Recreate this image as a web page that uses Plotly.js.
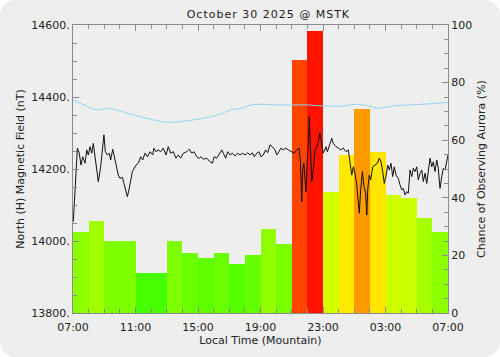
<!DOCTYPE html>
<html><head><meta charset="utf-8">
<script src="https://cdn.plot.ly/plotly-3.0.1.min.js"></script>
<style>
html,body{margin:0;padding:0;background:#fff;}
#wrap{width:500px;height:357px;border-radius:16px;overflow:hidden;background:#eeeeee;}
#chart{width:500px;height:357px;}
#chart .gtitle{letter-spacing:1px;}
</style></head><body><div id="wrap"><div id="chart"></div></div>
<script>
const chartTitle = 'October 30 2025 @ MSTK';

// Hourly aurora chance (%), one bar per local hour starting 07:00
const barHours = [7.5,8.5,9.5,10.5,11.5,12.5,13.5,14.5,15.5,16.5,17.5,18.5,19.5,20.5,21.5,22.5,23.5,24.5,25.5,26.5,27.5,28.5,29.5,30.5];
const auroraChance = [28,32,25,25,14,14,25,21,19,21,17,20,29,24,88,98,42,55,71,56,41,40,33,28];

// Magnetometer H component (nT), local hours (24+ = next day)
const magHours = [7.02,7.13,7.28,7.40,7.51,7.62,7.77,7.88,7.98,8.09,8.20,8.30,8.41,8.52,8.62,8.77,8.90,8.98,9.07,9.20,9.32,9.41,9.54,9.64,9.75,9.90,10.01,10.16,10.26,10.39,10.48,10.58,10.69,10.80,10.92,11.03,11.18,11.33,11.46,11.61,11.76,11.93,12.10,12.18,12.31,12.46,12.61,12.78,12.95,13.10,13.25,13.42,13.59,13.74,13.89,14.06,14.28,14.44,14.60,14.74,14.92,15.08,15.19,15.34,15.56,15.77,15.92,16.04,16.20,16.34,16.52,16.62,16.77,16.90,17.05,17.20,17.37,17.54,17.69,17.84,18.01,18.18,18.33,18.48,18.60,18.76,18.90,19.03,19.18,19.33,19.46,19.61,19.76,19.93,20.04,20.18,20.31,20.46,20.61,20.78,21.00,21.16,21.32,21.46,21.55,21.64,21.70,21.78,21.85,21.91,22.00,22.06,22.12,22.21,22.28,22.38,22.49,22.60,22.70,22.81,22.92,23.02,23.06,23.19,23.28,23.45,23.56,23.66,23.83,23.98,24.13,24.30,24.47,24.62,24.73,24.84,24.94,25.05,25.16,25.26,25.32,25.41,25.52,25.62,25.73,25.80,25.86,25.96,26.05,26.18,26.33,26.48,26.60,26.71,26.82,26.92,27.03,27.14,27.24,27.35,27.46,27.56,27.67,27.82,27.93,28.04,28.14,28.25,28.36,28.46,28.57,28.68,28.78,28.89,29.00,29.10,29.21,29.32,29.42,29.53,29.64,29.74,29.85,29.96,30.06,30.17,30.28,30.38,30.49,30.60,30.70,30.81,30.92,31.00];
const magH = [14054,14142,14258,14244,14211,14234,14216,14253,14239,14262,14244,14271,14239,14206,14165,14206,14267,14295,14248,14239,14244,14225,14255,14234,14206,14183,14174,14177,14160,14133,14123,14142,14170,14193,14202,14211,14216,14234,14225,14244,14234,14248,14239,14258,14248,14253,14248,14258,14239,14262,14244,14248,14230,14239,14230,14244,14248,14255,14244,14248,14234,14230,14234,14227,14230,14220,14216,14234,14230,14239,14253,14244,14230,14248,14239,14244,14236,14244,14239,14244,14239,14245,14239,14245,14234,14244,14248,14234,14239,14253,14245,14267,14262,14253,14239,14248,14258,14253,14258,14253,14248,14244,14253,14258,14225,14109,14197,14216,14170,14137,14234,14262,14345,14253,14165,14197,14253,14258,14276,14299,14267,14244,14248,14262,14248,14271,14285,14271,14262,14258,14253,14258,14248,14253,14220,14183,14206,14188,14156,14105,14077,14142,14193,14151,14133,14072,14142,14183,14170,14206,14211,14216,14230,14220,14193,14160,14179,14211,14197,14216,14179,14206,14183,14174,14156,14142,14146,14128,14137,14133,14197,14179,14202,14193,14206,14170,14188,14197,14165,14188,14160,14193,14230,14206,14220,14193,14225,14202,14146,14179,14202,14197,14220,14239];

// Quiet-day baseline (nT)
const baseHours = [7.0,7.7,8.5,9.1,9.6,10.5,11.5,12.8,13.5,14.3,15.0,15.8,16.5,17.1,17.8,18.4,19.2,20.0,21.0,22.0,23.0,24.3,25.1,25.8,26.5,27.5,28.4,29.4,31.0];
const baseH = [14392,14378,14364,14368,14366,14355,14343,14331,14330,14334,14338,14345,14354,14364,14369,14378,14380,14378,14378,14378,14375,14375,14380,14376,14369,14375,14378,14380,14385];

const xTickVals = [7,11,15,19,23,27,31];
const xTickText = ['07:00','11:00','15:00','19:00','23:00','03:00','07:00'];
const magTickVals = [13800,14000,14200,14400,14600];
const magTickText = ['13800.','14000.','14200.','14400.','14600.'];
const pctTickVals = [0,20,40,60,80,100];

function chanceColor(p){ return 'hsl(' + (120 - 1.18*p).toFixed(1) + ',100%,50%)'; }

const FONT = {family:'DejaVu Sans, sans-serif', size:11, color:'#222'};
const AX = '#8c8c8c';

const traces = [
  {type:'bar', x:barHours, y:auroraChance, width:1, yaxis:'y',
   marker:{color:auroraChance.map(chanceColor), line:{width:0}}, hoverinfo:'skip'},
  {type:'scatter', mode:'lines', x:baseHours, y:baseH, yaxis:'y2',
   line:{color:'#8fd4f2', width:1, shape:'spline', smoothing:0.6}},
  {type:'scatter', mode:'lines', x:magHours, y:magH, yaxis:'y2',
   line:{color:'#111', width:1}}
];

const layout = {
  width:500, height:357,
  margin:{l:73, r:52, t:25, b:44},
  paper_bgcolor:'#eeeeee', plot_bgcolor:'#eeeeee',
  showlegend:false, bargap:0,
  font:FONT,
  title:{text:chartTitle, font:FONT, x:0.521, xanchor:'center', xref:'paper', yref:'container', y:0.96, yanchor:'middle'},
  xaxis:{range:[7,31], tickmode:'array', tickvals:xTickVals, ticktext:xTickText,
    ticks:'inside', ticklen:6, tickcolor:AX, showline:true, linecolor:AX, linewidth:1, mirror:'ticks',
    minor:{tickmode:'linear', tick0:7, dtick:1, ticks:'inside', ticklen:4, tickcolor:AX},
    showgrid:false, zeroline:false, tickfont:FONT, ticklabelstandoff:4,
    title:{text:'Local Time (Mountain)', font:FONT, standoff:2}},
  yaxis:{range:[0,100], side:'right', tickmode:'array', tickvals:pctTickVals,
    ticks:'inside', ticklen:6, tickcolor:AX, showline:true, linecolor:AX, linewidth:1,
    minor:{tickmode:'linear', tick0:0, dtick:5, ticks:'inside', ticklen:4, tickcolor:AX},
    showgrid:false, zeroline:false, tickfont:FONT,
    title:{text:'Chance of Observing Aurora (%)', font:FONT, standoff:6}},
  yaxis2:{range:[13800,14600], side:'left', overlaying:'y', tickmode:'array', tickvals:magTickVals, ticktext:magTickText,
    ticks:'inside', ticklen:6, tickcolor:AX, showline:true, linecolor:AX, linewidth:1,
    minor:{tickmode:'linear', tick0:13800, dtick:50, ticks:'inside', ticklen:4, tickcolor:AX},
    showgrid:false, zeroline:false, tickfont:FONT,
    title:{text:'North (H) Magnetic Field (nT)', font:FONT, standoff:4}}
};

Plotly.newPlot('chart', traces, layout, {displayModeBar:false, staticPlot:true});
</script></body></html>
